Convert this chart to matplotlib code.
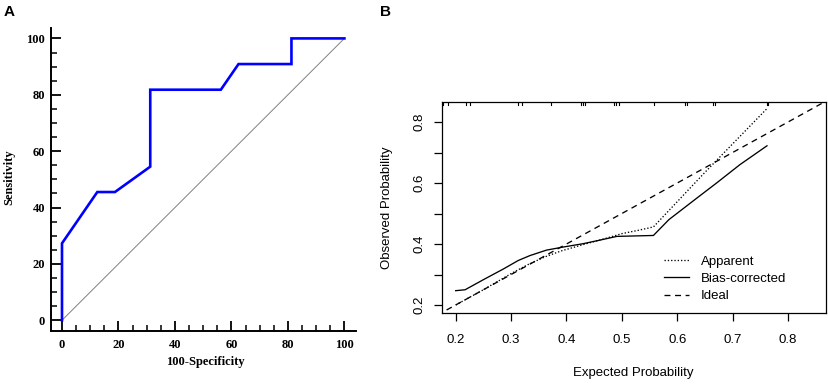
import matplotlib
matplotlib.use("Agg")
import matplotlib.pyplot as plt
from matplotlib.ticker import MultipleLocator

# ---------- Panel A data (ROC) ----------
roc_fpr = [0, 0, 12.5, 18.75, 31.25, 31.25, 56.25, 62.5, 81.25, 81.25, 100]
roc_tpr = [0, 27.3, 45.5, 45.5, 54.5, 81.8, 81.8, 90.9, 90.9, 100, 100]
roc_ticks = [0, 20, 40, 60, 80, 100]
chance_xy = [0, 100]

# ---------- Panel B data (calibration) ----------
app_x = [0.200, 0.250, 0.300, 0.330, 0.360, 0.390, 0.430, 0.470, 0.500, 0.530, 0.557, 0.650, 0.762]
app_y = [0.200, 0.250, 0.303, 0.332, 0.357, 0.377, 0.398, 0.418, 0.434, 0.445, 0.456, 0.635, 0.844]
bc_x = [0.200, 0.217, 0.250, 0.286, 0.313, 0.334, 0.364, 0.394, 0.430, 0.461, 0.491, 0.557, 0.585, 0.635, 0.671, 0.713, 0.762]
bc_y = [0.247, 0.250, 0.283, 0.318, 0.346, 0.362, 0.380, 0.390, 0.401, 0.413, 0.425, 0.428, 0.480, 0.550, 0.600, 0.660, 0.722]
ideal_xy = [0.0, 1.0]
rug_x = [0.178, 0.187, 0.219, 0.226, 0.312, 0.319, 0.372, 0.426, 0.429, 0.434,
         0.485, 0.489, 0.494, 0.558, 0.614, 0.617, 0.664, 0.668, 0.7615, 0.764]
b_ticks = [0.2, 0.3, 0.4, 0.5, 0.6, 0.7, 0.8]
b_labels_x = ["0.2", "0.3", "0.4", "0.5", "0.6", "0.7", "0.8"]
b_labels_y = ["0.2", "", "0.4", "", "0.6", "", "0.8"]
legend_labels = ["Apparent", "Bias-corrected", "Ideal"]

W, H = 829, 384
fig = plt.figure(figsize=(W / 100, H / 100), dpi=100)

# ---------------- Panel A ----------------
axA = fig.add_axes([50.7 / W, 1 - 330.7 / H, 305 / W, 303 / H])
axA.plot(chance_xy, chance_xy, color="#808080", lw=0.7)
axA.plot(roc_fpr, roc_tpr, color="#0000ff", lw=1.9, solid_joinstyle="miter")
axA.set_xlim(-4.0, 104.0)
axA.set_ylim(-3.7, 103.8)
for s in ["top", "right"]:
    axA.spines[s].set_visible(False)
for s in ["left", "bottom"]:
    axA.spines[s].set_linewidth(1.4)
axA.set_xticks(roc_ticks)
axA.set_yticks(roc_ticks)
axA.xaxis.set_minor_locator(MultipleLocator(5))
axA.yaxis.set_minor_locator(MultipleLocator(5))
serif = ["Liberation Serif", "DejaVu Serif"]
axA.tick_params(which="major", direction="in", length=7, width=1.3)
axA.tick_params(which="minor", direction="in", length=4, width=1.1)
for lab in axA.get_xticklabels() + axA.get_yticklabels():
    lab.set_fontfamily(serif)
    lab.set_fontweight("bold")
    lab.set_fontsize(9)
axA.tick_params(axis="x", pad=6)
axA.tick_params(axis="y", pad=4)
fig.text(205 / W, 1 - 361.7 / H, "100-Specificity", ha="center", va="center",
         family=serif, fontweight="bold", fontsize=9)
fig.text(9 / W, 1 - 177 / H, "Sensitivity", ha="center", va="center", rotation=90,
         family=serif, fontweight="bold", fontsize=9)
fig.text(9 / W, 1 - 12 / H, "A", ha="center", va="center", family="Liberation Sans",
         fontweight="bold", fontsize=11)
fig.text(386 / W, 1 - 12 / H, "B", ha="center", va="center", family="Liberation Sans",
         fontweight="bold", fontsize=11)

# ---------------- Panel B ----------------
axB = fig.add_axes([441.7 / W, 1 - 312.7 / H, 384 / W, 210.4 / H])
lw = 0.95
axB.plot(ideal_xy, ideal_xy, color="black", lw=lw, ls=(0, (4.5, 3.5)), label=legend_labels[2])
axB.plot(bc_x, bc_y, color="black", lw=lw, ls="-", label=legend_labels[1])
axB.plot(app_x, app_y, color="black", lw=lw, ls=(0, (1, 1.5)), label=legend_labels[0])
axB.set_xlim(0.1748, 0.868)
axB.set_ylim(0.1748, 0.8646)
for x in rug_x:
    axB.plot([x, x], [1.0, 0.985], transform=axB.get_xaxis_transform(), color="black", lw=0.8)
for s in axB.spines.values():
    s.set_linewidth(0.9)
axB.set_xticks(b_ticks)
axB.set_xticklabels(b_labels_x)
axB.set_yticks(b_ticks)
axB.set_yticklabels(b_labels_y, rotation=90, va="center")
axB.tick_params(direction="out", length=6, width=0.9, labelsize=9.5)
axB.tick_params(axis="x", pad=9)
axB.tick_params(axis="y", pad=6)
for lab in axB.get_xticklabels() + axB.get_yticklabels():
    lab.set_fontfamily("Liberation Sans")
fig.text(633 / W, 1 - 372.7 / H, "Expected Probability", ha="center", va="center",
         family="Liberation Sans", fontsize=9.5)
fig.text(386.7 / W, 1 - 207.5 / H, "Observed Probability", ha="center", va="center",
         rotation=90, family="Liberation Sans", fontsize=9.5)
handles, labels = axB.get_legend_handles_labels()
order = [2, 1, 0]
axB.legend([handles[i] for i in order], [labels[i] for i in order],
           loc="upper left", bbox_to_anchor=(0.58, 0.272), frameon=False,
           prop={"family": "Liberation Sans", "size": 9.5},
           handlelength=1.9, handletextpad=0.85, labelspacing=0.38,
           borderpad=0, borderaxespad=0)

fig.savefig("out.png", dpi=100)
